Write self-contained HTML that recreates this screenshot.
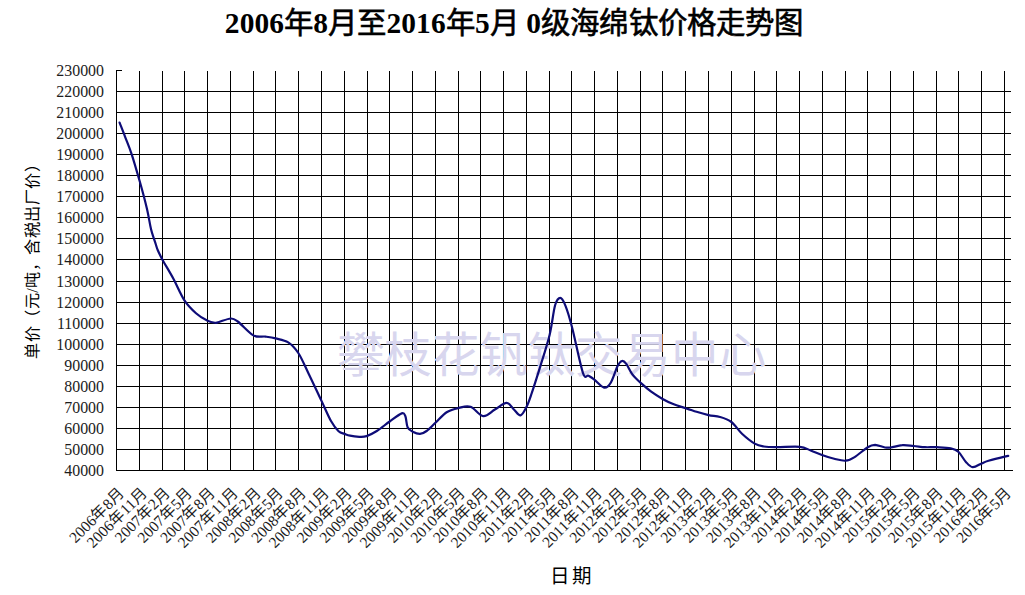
<!DOCTYPE html>
<html lang="zh-CN"><head><meta charset="utf-8"><style>
html,body{margin:0;padding:0;background:#fff;width:1025px;height:595px;overflow:hidden}
svg{display:block}
.t{font-family:"Liberation Serif",serif;}
</style></head><body>
<svg width="1025" height="595" viewBox="0 0 1025 595">
<text class="t" x="514" y="33" text-anchor="middle" textLength="578.3" lengthAdjust="spacing" font-size="29.45" font-weight="bold" fill="#000">2006<tspan font-weight="normal" stroke="#000" stroke-width="0.6">年</tspan>8<tspan font-weight="normal" stroke="#000" stroke-width="0.6">月至</tspan>2016<tspan font-weight="normal" stroke="#000" stroke-width="0.6">年</tspan>5<tspan font-weight="normal" stroke="#000" stroke-width="0.6">月</tspan> 0<tspan font-weight="normal" stroke="#000" stroke-width="0.6">级海绵钛价格走势图</tspan></text>
<g fill="#000"><rect x="116" y="91" width="895" height="1"/>
<rect x="116" y="112" width="895" height="1"/>
<rect x="116" y="133" width="895" height="1"/>
<rect x="116" y="154" width="895" height="1"/>
<rect x="116" y="175" width="895" height="1"/>
<rect x="116" y="196" width="895" height="1"/>
<rect x="116" y="217" width="895" height="1"/>
<rect x="116" y="238" width="895" height="1"/>
<rect x="116" y="259" width="895" height="1"/>
<rect x="116" y="281" width="895" height="1"/>
<rect x="116" y="302" width="895" height="1"/>
<rect x="116" y="323" width="895" height="1"/>
<rect x="116" y="344" width="895" height="1"/>
<rect x="116" y="365" width="895" height="1"/>
<rect x="116" y="386" width="895" height="1"/>
<rect x="116" y="407" width="895" height="1"/>
<rect x="116" y="428" width="895" height="1"/>
<rect x="116" y="449" width="895" height="1"/>
<rect x="116" y="470" width="897" height="1"/>
<rect x="116" y="70" width="1" height="401"/>
<rect x="116" y="70" width="6" height="1"/>
<rect x="139" y="71" width="1" height="400"/>
<rect x="162" y="71" width="1" height="400"/>
<rect x="184" y="71" width="1" height="400"/>
<rect x="207" y="71" width="1" height="400"/>
<rect x="230" y="71" width="1" height="400"/>
<rect x="253" y="71" width="1" height="400"/>
<rect x="275" y="71" width="1" height="400"/>
<rect x="298" y="71" width="1" height="400"/>
<rect x="321" y="71" width="1" height="400"/>
<rect x="344" y="71" width="1" height="400"/>
<rect x="367" y="71" width="1" height="400"/>
<rect x="389" y="71" width="1" height="400"/>
<rect x="412" y="71" width="1" height="400"/>
<rect x="435" y="71" width="1" height="400"/>
<rect x="458" y="71" width="1" height="400"/>
<rect x="480" y="71" width="1" height="400"/>
<rect x="503" y="71" width="1" height="400"/>
<rect x="526" y="71" width="1" height="400"/>
<rect x="549" y="71" width="1" height="400"/>
<rect x="571" y="71" width="1" height="400"/>
<rect x="594" y="71" width="1" height="400"/>
<rect x="617" y="71" width="1" height="400"/>
<rect x="640" y="71" width="1" height="400"/>
<rect x="662" y="71" width="1" height="400"/>
<rect x="685" y="71" width="1" height="400"/>
<rect x="708" y="71" width="1" height="400"/>
<rect x="731" y="71" width="1" height="400"/>
<rect x="754" y="71" width="1" height="400"/>
<rect x="776" y="71" width="1" height="400"/>
<rect x="799" y="71" width="1" height="400"/>
<rect x="822" y="71" width="1" height="400"/>
<rect x="845" y="71" width="1" height="400"/>
<rect x="867" y="71" width="1" height="400"/>
<rect x="890" y="71" width="1" height="400"/>
<rect x="913" y="71" width="1" height="400"/>
<rect x="936" y="71" width="1" height="400"/>
<rect x="958" y="71" width="1" height="400"/>
<rect x="981" y="71" width="1" height="400"/>
<rect x="1004" y="71" width="1" height="400"/></g>
<text class="t" x="336.5" y="372" textLength="429.3" lengthAdjust="spacing" font-size="47.5" fill="#d8d6ee">攀枝花钒钛交易中心</text>
<path d="M119.6 122.6 C120.5 125.0 123.1 131.5 125.1 136.8 C127.1 142.1 129.3 147.0 131.7 154.3 C134.1 161.6 136.9 171.4 139.5 180.5 C142.1 189.6 145.1 200.9 147.0 209.0 C148.9 217.1 149.6 223.2 151.0 229.0 C152.4 234.8 154.6 240.5 155.7 244.0 C156.8 247.5 156.6 247.4 157.7 250.0 C158.8 252.6 159.7 254.6 162.3 259.4 C164.9 264.2 169.7 271.8 173.4 278.7 C177.1 285.6 180.8 294.9 184.6 300.6 C188.4 306.4 192.2 309.8 196.0 313.2 C199.8 316.6 204.4 319.2 207.6 320.8 C210.8 322.4 213.2 322.6 215.1 322.8 C217.0 323.0 216.4 322.7 219.0 322.0 C221.6 321.3 227.7 318.6 230.8 318.5 C233.9 318.4 234.0 318.7 237.8 321.5 C241.6 324.3 248.8 332.9 253.4 335.4 C258.0 337.9 261.8 336.1 265.5 336.6 C269.2 337.1 271.8 337.4 275.6 338.4 C279.4 339.4 284.4 340.0 288.2 342.4 C292.0 344.8 294.9 347.9 298.3 353.0 C301.7 358.1 304.5 365.2 308.4 373.2 C312.3 381.2 317.7 392.9 321.5 400.9 C325.3 408.9 328.1 415.9 331.0 421.0 C333.9 426.1 336.3 429.1 338.6 431.2 C340.9 433.3 342.7 433.1 344.6 433.9 C346.5 434.6 347.6 435.2 350.0 435.7 C352.4 436.2 356.5 436.7 359.3 436.8 C362.1 436.9 363.7 437.1 366.6 436.1 C369.5 435.1 373.0 433.4 376.8 431.0 C380.6 428.6 385.6 424.4 389.7 421.5 C393.8 418.6 399.1 414.3 401.7 413.4 C404.3 412.5 404.4 414.0 405.4 416.3 C406.4 418.6 406.4 424.7 407.6 427.3 C408.8 429.9 410.6 430.6 412.7 431.7 C414.8 432.8 417.7 434.0 420.0 433.9 C422.3 433.8 424.0 432.9 426.6 431.0 C429.2 429.1 432.3 425.7 435.7 422.5 C439.1 419.3 443.2 414.4 447.1 412.0 C451.0 409.6 454.9 408.8 458.8 407.9 C462.7 407.0 466.4 405.4 470.5 406.8 C474.6 408.2 479.1 415.7 483.2 416.1 C487.3 416.6 491.0 411.7 494.9 409.5 C498.8 407.3 503.4 402.9 506.6 402.9 C509.8 402.9 511.6 407.4 513.9 409.5 C516.2 411.6 518.4 415.8 520.5 415.4 C522.6 415.0 524.5 410.7 526.3 407.3 C528.1 403.9 528.8 401.8 531.1 395.0 C533.4 388.2 537.2 376.3 540.3 366.3 C543.4 356.3 547.1 345.1 549.6 334.9 C552.1 324.7 553.3 311.5 555.1 305.3 C556.9 299.1 558.6 297.9 560.3 297.9 C562.0 297.9 563.3 300.4 565.3 305.3 C567.3 310.2 569.2 316.2 572.1 327.5 C575.0 338.8 580.2 364.8 582.9 372.8 C585.6 380.8 586.5 374.5 588.4 375.6 C590.2 376.7 591.4 377.3 594.0 379.3 C596.6 381.3 601.3 387.0 604.1 387.6 C606.9 388.2 608.4 386.6 610.6 383.0 C612.9 379.4 615.7 369.8 617.6 366.1 C619.5 362.4 620.5 361.4 622.0 361.0 C623.5 360.6 624.6 361.7 626.3 363.9 C628.0 366.1 629.8 370.9 632.2 374.1 C634.6 377.3 637.5 380.0 640.7 382.9 C643.9 385.8 647.6 389.0 651.2 391.7 C654.9 394.4 658.9 396.9 662.6 399.0 C666.3 401.1 669.4 402.6 673.2 404.1 C677.0 405.6 681.7 406.9 685.6 408.2 C689.5 409.5 692.8 410.6 696.6 411.8 C700.4 413.0 704.7 414.2 708.6 415.1 C712.5 416.0 716.2 415.9 720.0 417.0 C723.8 418.1 727.7 419.2 731.4 422.0 C735.1 424.8 738.1 430.1 742.0 433.7 C745.9 437.3 751.1 441.5 754.7 443.6 C758.4 445.7 760.3 445.9 763.9 446.5 C767.5 447.1 770.3 447.1 776.3 447.1 C782.3 447.2 794.1 446.2 799.8 446.8 C805.5 447.4 806.9 449.1 810.7 450.5 C814.5 451.9 818.8 453.9 822.7 455.3 C826.6 456.7 830.4 457.9 834.2 458.8 C838.0 459.7 842.2 461.0 845.6 460.7 C849.0 460.4 850.9 459.4 854.6 457.1 C858.3 454.9 864.3 449.2 867.7 447.2 C871.1 445.1 872.2 444.8 875.1 444.8 C878.0 444.9 882.4 447.1 885.0 447.5 C887.6 447.9 887.8 447.9 890.7 447.5 C893.6 447.1 898.5 445.4 902.3 445.2 C906.1 444.9 909.9 445.7 913.7 446.0 C917.5 446.3 921.2 447.0 925.0 447.2 C928.8 447.4 932.4 447.0 936.7 447.2 C941.0 447.4 947.1 447.5 950.7 448.3 C954.4 449.1 956.1 449.7 958.6 452.0 C961.1 454.3 963.5 459.4 965.9 461.9 C968.2 464.4 970.1 466.9 972.7 467.2 C975.3 467.4 979.1 464.5 981.7 463.4 C984.3 462.3 984.7 461.9 988.5 460.8 C992.3 459.7 1001.4 457.4 1004.7 456.6 C1008.0 455.8 1007.6 455.9 1008.2 455.8" fill="none" stroke="#0e0c78" stroke-width="2.2" stroke-linejoin="round" stroke-linecap="round"/>
<g class="t" font-size="15.9" text-anchor="end" fill="#1c1c1c"><text x="104" y="75.5">230000</text>
<text x="104" y="96.5">220000</text>
<text x="104" y="117.5">210000</text>
<text x="104" y="138.5">200000</text>
<text x="104" y="159.5">190000</text>
<text x="104" y="180.5">180000</text>
<text x="104" y="201.5">170000</text>
<text x="104" y="222.5">160000</text>
<text x="104" y="243.5">150000</text>
<text x="104" y="264.5">140000</text>
<text x="104" y="286.5">130000</text>
<text x="104" y="307.5">120000</text>
<text x="104" y="328.5">110000</text>
<text x="104" y="349.5">100000</text>
<text x="104" y="370.5">90000</text>
<text x="104" y="391.5">80000</text>
<text x="104" y="412.5">70000</text>
<text x="104" y="433.5">60000</text>
<text x="104" y="454.5">50000</text>
<text x="104" y="475.5">40000</text></g>
<text class="t" transform="translate(37.5 257.5) rotate(-90)" text-anchor="middle" textLength="202.8" lengthAdjust="spacing" font-size="16.2" fill="#000">单价（元/吨，含税出厂价）</text>
<g class="t" font-size="15.5" text-anchor="end" fill="#1c1c1c"><text transform="translate(125.5 493.7) rotate(-45)">2006年8月</text>
<text transform="translate(148.2 493.7) rotate(-45)">2006年11月</text>
<text transform="translate(171.0 493.7) rotate(-45)">2007年2月</text>
<text transform="translate(193.7 493.7) rotate(-45)">2007年5月</text>
<text transform="translate(216.5 493.7) rotate(-45)">2007年8月</text>
<text transform="translate(239.2 493.7) rotate(-45)">2007年11月</text>
<text transform="translate(262.0 493.7) rotate(-45)">2008年2月</text>
<text transform="translate(284.7 493.7) rotate(-45)">2008年5月</text>
<text transform="translate(307.5 493.7) rotate(-45)">2008年8月</text>
<text transform="translate(330.2 493.7) rotate(-45)">2008年11月</text>
<text transform="translate(353.0 493.7) rotate(-45)">2009年2月</text>
<text transform="translate(375.7 493.7) rotate(-45)">2009年5月</text>
<text transform="translate(398.4 493.7) rotate(-45)">2009年8月</text>
<text transform="translate(421.2 493.7) rotate(-45)">2009年11月</text>
<text transform="translate(443.9 493.7) rotate(-45)">2010年2月</text>
<text transform="translate(466.7 493.7) rotate(-45)">2010年5月</text>
<text transform="translate(489.4 493.7) rotate(-45)">2010年8月</text>
<text transform="translate(512.2 493.7) rotate(-45)">2010年11月</text>
<text transform="translate(534.9 493.7) rotate(-45)">2011年2月</text>
<text transform="translate(557.7 493.7) rotate(-45)">2011年5月</text>
<text transform="translate(580.4 493.7) rotate(-45)">2011年8月</text>
<text transform="translate(603.1 493.7) rotate(-45)">2011年11月</text>
<text transform="translate(625.9 493.7) rotate(-45)">2012年2月</text>
<text transform="translate(648.6 493.7) rotate(-45)">2012年5月</text>
<text transform="translate(671.4 493.7) rotate(-45)">2012年8月</text>
<text transform="translate(694.1 493.7) rotate(-45)">2012年11月</text>
<text transform="translate(716.9 493.7) rotate(-45)">2013年2月</text>
<text transform="translate(739.6 493.7) rotate(-45)">2013年5月</text>
<text transform="translate(762.4 493.7) rotate(-45)">2013年8月</text>
<text transform="translate(785.1 493.7) rotate(-45)">2013年11月</text>
<text transform="translate(807.9 493.7) rotate(-45)">2014年2月</text>
<text transform="translate(830.6 493.7) rotate(-45)">2014年5月</text>
<text transform="translate(853.3 493.7) rotate(-45)">2014年8月</text>
<text transform="translate(876.1 493.7) rotate(-45)">2014年11月</text>
<text transform="translate(898.8 493.7) rotate(-45)">2015年2月</text>
<text transform="translate(921.6 493.7) rotate(-45)">2015年5月</text>
<text transform="translate(944.3 493.7) rotate(-45)">2015年8月</text>
<text transform="translate(967.1 493.7) rotate(-45)">2015年11月</text>
<text transform="translate(989.8 493.7) rotate(-45)">2016年2月</text>
<text transform="translate(1012.6 493.7) rotate(-45)">2016年5月</text></g>
<text class="t" x="571" y="582.5" text-anchor="middle" textLength="42" lengthAdjust="spacing" font-size="19.5" fill="#000">日期</text>
</svg>
</body></html>
